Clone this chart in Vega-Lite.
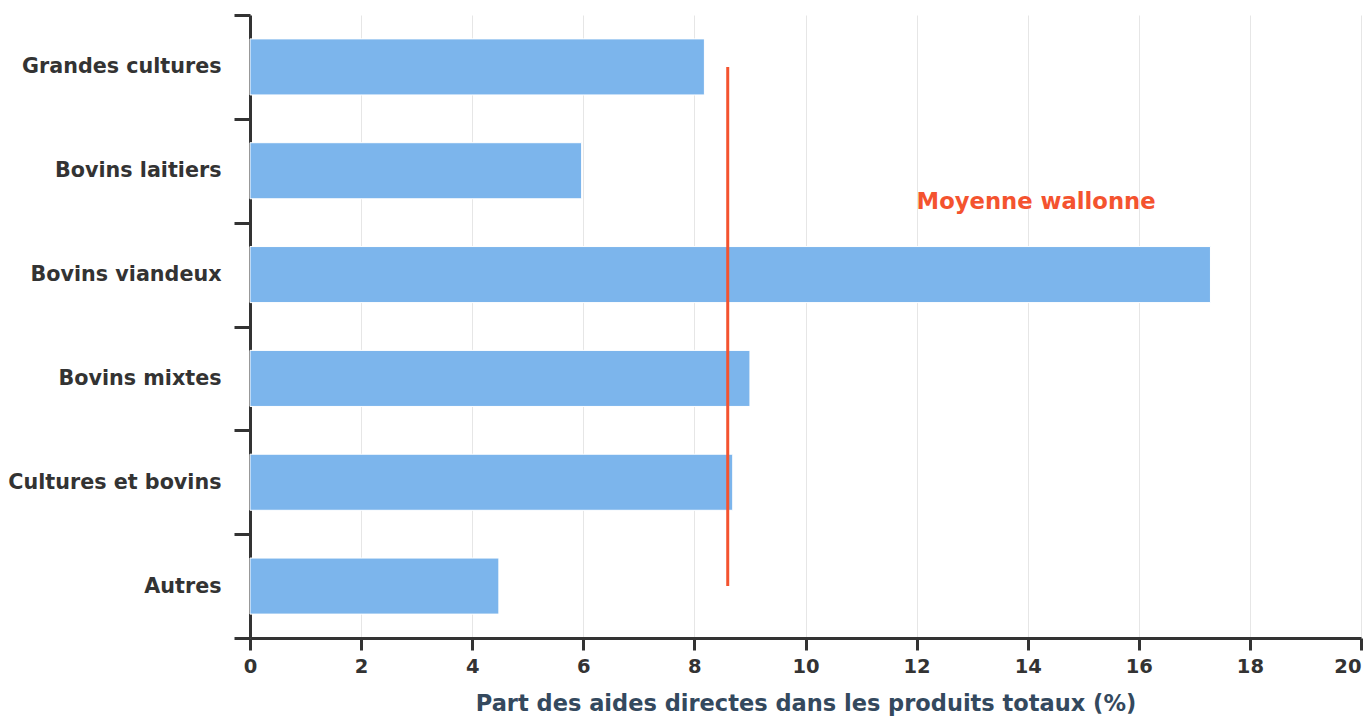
{
  "$schema": "https://vega.github.io/schema/vega-lite/v6.json",
  "width": 1111,
  "height": 623,
  "autosize": "none",
  "padding": {"left": 250, "top": 15, "right": 4, "bottom": 80},
  "background": "white",
  "config": {"view": {"stroke": null}, "font": "DejaVu Sans"},
  "datasets": {
    "bars": [
      {"categorie": "Grandes cultures", "valeur": 8.18},
      {"categorie": "Bovins laitiers", "valeur": 5.97},
      {"categorie": "Bovins viandeux", "valeur": 17.29},
      {"categorie": "Bovins mixtes", "valeur": 9.0},
      {"categorie": "Cultures et bovins", "valeur": 8.69},
      {"categorie": "Autres", "valeur": 4.48}
    ],
    "moyenne": [
      {"categorie": "Grandes cultures", "valeur": 8.6},
      {"categorie": "Autres", "valeur": 8.6}
    ],
    "etiquette": [
      {"categorie": "Bovins laitiers", "valeur": 12, "texte": "Moyenne wallonne"}
    ]
  },
  "layer": [
    {
      "data": {"name": "bars"},
      "mark": {"type": "bar", "color": "#7cb5ec", "stroke": "#ffffff", "strokeWidth": 1, "height": {"band": 0.54}},
      "encoding": {
        "y": {
          "field": "categorie", "type": "nominal",
          "scale": {"domain": ["Grandes cultures", "Bovins laitiers", "Bovins viandeux", "Bovins mixtes", "Cultures et bovins", "Autres"], "paddingInner": 0, "paddingOuter": 0},
          "axis": {
            "title": null, "grid": false, "ticks": true, "tickBand": "extent",
            "tickSize": 16, "tickWidth": 3, "tickColor": "#333333",
            "domainWidth": 3, "domainColor": "#333333",
            "labelPadding": 13, "labelFontSize": 20.7, "labelFontWeight": "bold",
            "labelColor": "#333333", "labelLimit": 500
          }
        },
        "x": {
          "field": "valeur", "type": "quantitative",
          "scale": {"domain": [0, 20], "nice": false},
          "axis": {
            "title": "Part des aides directes dans les produits totaux (%)",
            "values": [0, 2, 4, 6, 8, 10, 12, 14, 16, 18, 20],
            "grid": true, "gridColor": "#e6e6e6", "gridWidth": 1,
            "tickSize": 12, "tickWidth": 3, "tickColor": "#333333",
            "domainWidth": 3, "domainColor": "#333333",
            "labelFlush": false,
            "labelAlign": {"expr": "datum.value == 20 ? 'right' : 'center'"},
            "labelFontSize": 19.5, "labelFontWeight": "bold", "labelColor": "#333333", "labelPadding": 7,
            "titleFontSize": 22.5, "titleFontWeight": "bold", "titleColor": "#34495e", "titlePadding": 17
          }
        }
      }
    },
    {
      "data": {"name": "moyenne"},
      "mark": {"type": "line", "color": "#f4532f", "strokeWidth": 3},
      "encoding": {
        "y": {"field": "categorie", "type": "nominal"},
        "x": {"field": "valeur", "type": "quantitative"}
      }
    },
    {
      "data": {"name": "etiquette"},
      "mark": {"type": "text", "color": "#f4532f", "fontWeight": "bold", "fontSize": 22.7, "align": "left", "baseline": "middle", "dy": 31},
      "encoding": {
        "y": {"field": "categorie", "type": "nominal"},
        "x": {"field": "valeur", "type": "quantitative"},
        "text": {"field": "texte"}
      }
    }
  ]
}
